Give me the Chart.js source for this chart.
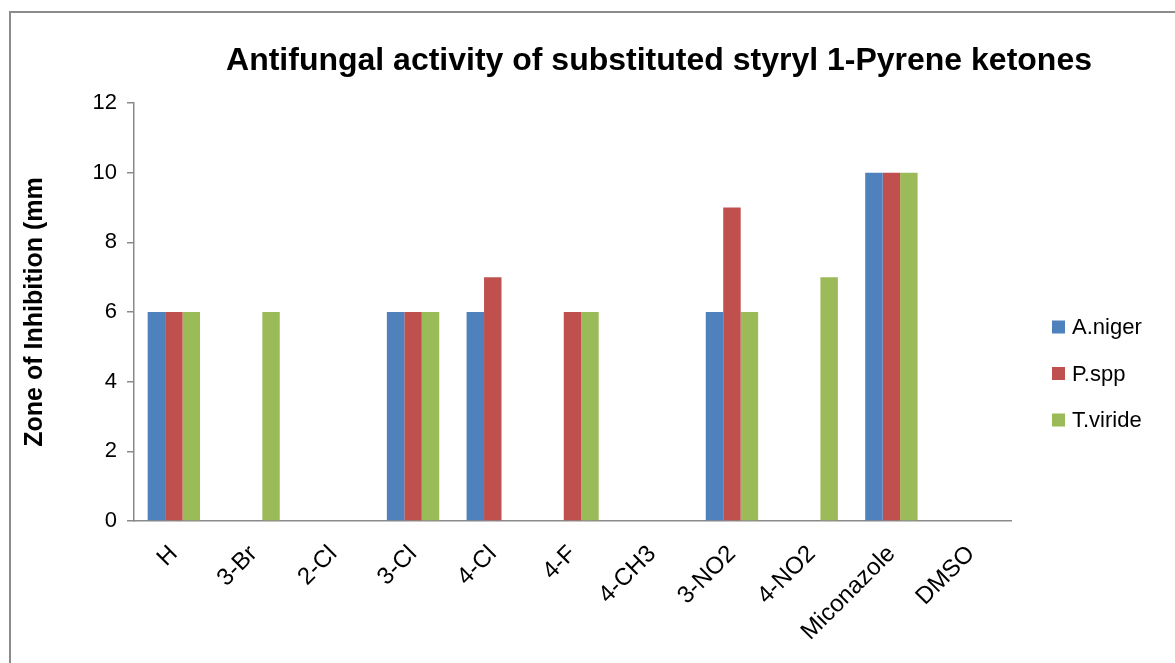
<!DOCTYPE html>
<html><head><meta charset="utf-8">
<script src="https://cdn.jsdelivr.net/npm/chart.js@4.4.0/dist/chart.umd.min.js"></script>
<style>
html,body{margin:0;padding:0;background:#fff;overflow:hidden;}
#wrap{position:relative;width:1175px;height:663px;overflow:hidden;}
#frame{position:absolute;left:9px;top:11px;width:1300px;height:800px;border-left:2px solid #8c8c8c;border-top:2px solid #8c8c8c;}
canvas{position:absolute;left:0;top:0;}
</style></head><body>
<div id="wrap"><div id="frame"></div><canvas id="c" width="1175" height="663"></canvas></div>
<script>
const categories = ['H','3-Br','2-Cl','3-Cl','4-Cl','4-F','4-CH3','3-NO2','4-NO2','Miconazole','DMSO'];
const seriesNames = ['A.niger','P.spp','T.viride'];
const aNiger  = [6,0,0,6,6,0,0,6,0,10,0];
const pSpp    = [6,0,0,6,7,6,0,9,0,10,0];
const tViride = [6,6,0,6,0,6,0,6,7,10,0];
const yTickValues = [0,2,4,6,8,10,12];
const chartTitle = 'Antifungal activity of substituted styryl 1-Pyrene ketones';
const yAxisTitle = 'Zone of Inhibition (mm';
const seriesColors = ['#4F81BD','#C0504D','#9BBB59'];

const FONT = '"Liberation Sans", Arial, sans-serif';
const AXIS = '#8a8a8a';

const titlePlugin = {
  id: 'xlTitle',
  afterDraw(chart) {
    const ctx = chart.ctx;
    ctx.save();
    ctx.fillStyle = '#000';
    ctx.font = 'bold 32px ' + FONT;
    ctx.textAlign = 'center';
    ctx.textBaseline = 'middle';
    ctx.fillText(chartTitle, 659, 61);
    ctx.restore();
  }
};
const legendPlugin = {
  id: 'xlLegend',
  afterDraw(chart) {
    const ctx = chart.ctx;
    ctx.save();
    ctx.font = '22px ' + FONT;
    ctx.textBaseline = 'middle';
    ctx.textAlign = 'left';
    chart.data.datasets.forEach((ds, i) => {
      const cy = 327 + i * 46.5;
      ctx.fillStyle = ds.backgroundColor;
      ctx.fillRect(1052, cy - 6.5, 13, 13);
      ctx.fillStyle = '#000';
      ctx.fillText(ds.label, 1072, cy + 1);
    });
    ctx.restore();
  }
};

const seriesData = [aNiger, pSpp, tViride];
new Chart(document.getElementById('c'), {
  type: 'bar',
  data: {
    labels: categories,
    datasets: seriesNames.map((n, i) => ({
      label: n,
      data: seriesData[i],
      backgroundColor: seriesColors[i],
      borderWidth: 0,
      barPercentage: 1,
      categoryPercentage: 0.657
    }))
  },
  options: {
    responsive: false,
    animation: false,
    devicePixelRatio: 1,
    layout: { padding: { top: 103, right: 164, left: 0, bottom: 0 } },
    plugins: { legend: { display: false }, title: { display: false }, tooltip: { enabled: false } },
    scales: {
      x: {
        grid: { display: false, drawTicks: false },
        border: { display: true, color: AXIS, width: 1.5 },
        ticks: { color: '#000', font: { family: FONT, size: 24 }, maxRotation: 45, minRotation: 45, padding: 19, autoSkip: false },
        afterFit(s) { s.height = 142; }
      },
      y: {
        min: 0, max: 12,
        afterBuildTicks(s) { s.ticks = yTickValues.map(v => ({ value: v })); },
        grid: { display: true, drawOnChartArea: false, drawTicks: true, tickLength: 7, color: AXIS, lineWidth: 1.5 },
        border: { display: true, color: AXIS, width: 1.5 },
        ticks: { color: '#000', font: { family: FONT, size: 22 }, padding: 10 },
        title: { display: true, text: yAxisTitle, color: '#000', font: { family: FONT, size: 25, weight: 'bold' }, padding: { top: 20, bottom: 0 } },
        afterFit(s) { s.width = 134; }
      }
    }
  },
  plugins: [titlePlugin, legendPlugin]
});
</script>
</body></html>
